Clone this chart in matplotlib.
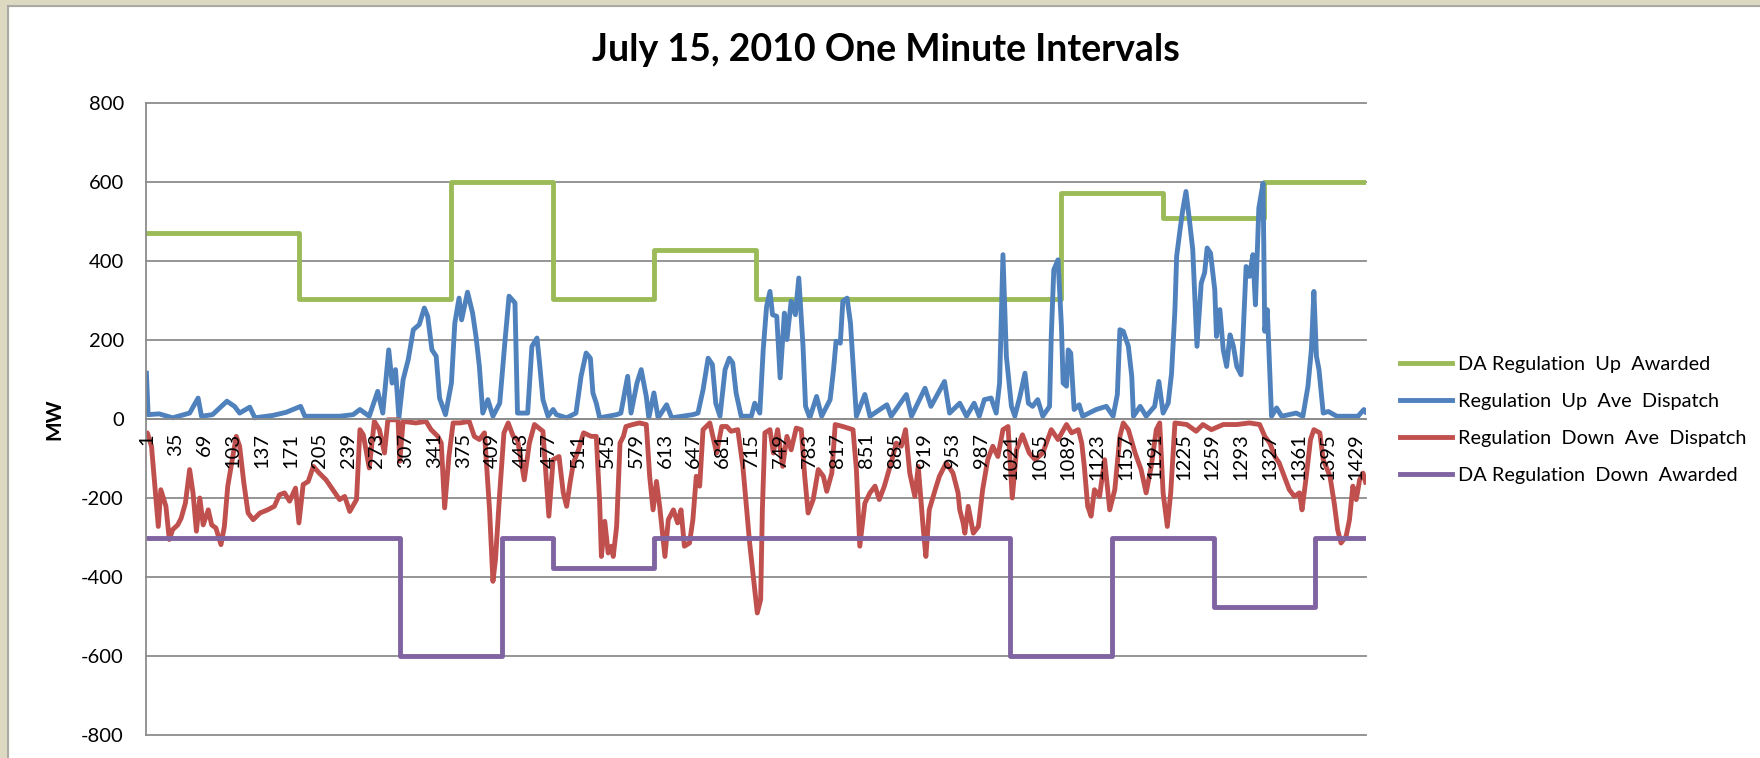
import numpy as np
import matplotlib.pyplot as plt
from matplotlib.patches import Rectangle

plt.rcParams['font.family'] = ['Lato', 'DejaVu Sans']
plt.rcParams['axes.unicode_minus'] = False

# hourly day-ahead awards (MW), 24 hours
up_award = [470, 470, 470, 303, 303, 303, 600, 600, 303, 303, 427, 427,
            303, 303, 303, 303, 303, 303, 572, 572, 510, 510, 600, 600]
down_award = [-300, -300, -300, -300, -300, -600, -600, -300, -377, -377, -300, -300,
              -300, -300, -300, -300, -300, -600, -600, -300, -300, -476, -476, -300]

# one-minute dispatch at breakpoints (minute, MW)
up_min = [1, 3, 16, 32, 52, 62, 66, 79, 96, 105, 111, 123, 129, 150, 166, 183, 188, 229, 245, 253,
          264, 274, 280, 287, 291, 295, 299, 304, 310, 316, 323, 329, 333, 338, 343, 347, 354, 361,
          365, 370, 373, 380, 386, 390, 394, 398, 404, 410, 418, 424, 429, 436, 439, 451, 456, 462,
          465, 469, 475, 481, 485, 497, 508, 514, 520, 525, 528, 532, 536, 556, 561, 569, 573, 580,
          585, 591, 594, 600, 605, 615, 621, 646, 652, 658, 664, 669, 673, 678, 684, 689, 693, 697,
          703, 715, 719, 725, 729, 733, 737, 740, 745, 749, 754, 757, 762, 767, 771, 776, 779, 784,
          792, 798, 808, 812, 815, 820, 823, 828, 832, 836, 839, 849, 855, 875, 880, 898, 904, 920,
          927, 943, 949, 961, 969, 978, 984, 990, 998, 1004, 1008, 1012, 1016, 1022, 1026, 1032,
          1038, 1042, 1047, 1053, 1059, 1067, 1069, 1072, 1077, 1081, 1083, 1087, 1089, 1092, 1096,
          1102, 1106, 1122, 1134, 1142, 1147, 1150, 1154, 1160, 1164, 1166, 1174, 1181, 1191, 1196,
          1201, 1207, 1211, 1215, 1217, 1221, 1224, 1228, 1232, 1236, 1241, 1246, 1250, 1253, 1257,
          1262, 1264, 1268, 1272, 1276, 1280, 1284, 1288, 1293, 1295, 1299, 1303, 1307, 1310, 1314,
          1319, 1321, 1324, 1329, 1335, 1341, 1358, 1366, 1372, 1376, 1379, 1382, 1385, 1390, 1396,
          1406, 1421, 1431, 1438, 1440]
up_val = [116, 11, 13, 3, 15, 53, 7, 11, 45, 32, 15, 30, 3, 9, 17, 32, 7, 7, 11, 24,
          7, 70, 15, 175, 91, 125, 3, 100, 150, 226, 239, 281, 260, 175, 159, 53, 11, 91,
          243, 306, 251, 321, 268, 209, 133, 15, 49, 7, 40, 192, 311, 294, 15, 15, 184, 205,
          142, 49, 7, 24, 11, 3, 15, 108, 167, 154, 66, 40, 3, 11, 15, 108, 15, 91,
          125, 57, 3, 66, 3, 36, 3, 11, 15, 74, 154, 138, 40, 7, 125, 154, 142, 66,
          7, 7, 40, 15, 175, 285, 323, 264, 260, 104, 268, 201, 298, 264, 357, 184, 32, 3,
          57, 7, 49, 125, 197, 192, 298, 306, 243, 108, 7, 62, 7, 36, 7, 62, 7, 78,
          32, 95, 15, 40, 7, 40, 7, 49, 53, 15, 91, 416, 159, 32, 7, 57,
          116, 40, 32, 49, 7, 32, 209, 378, 403, 235, 91, 83, 175, 167, 24,
          36, 7, 24, 32, 7, 62, 226, 222, 184, 108, 7, 32, 7, 32, 95,
          15, 40, 116, 277, 412, 479, 526, 576, 505, 429, 184, 344, 370, 433, 420,
          327, 209, 277, 175, 133, 213, 184, 133, 112, 192, 386, 361, 416, 289, 534,
          597, 222, 277, 7, 28, 7, 15, 7, 83, 175, 323, 159, 125, 15, 19,
          7, 7, 7, 24, 18]

down_min = [1, 2, 7, 11, 15, 18, 24, 28, 32, 38, 42, 47, 52, 56, 60, 64, 68, 74, 78, 83, 89, 93, 97,
            103, 107, 111, 116, 121, 127, 135, 144, 152, 158, 164, 170, 177, 181, 186, 192, 198, 205,
            213, 221, 229, 235, 241, 249, 253, 257, 264, 268, 270, 276, 282, 286, 298, 300, 304, 319,
            331, 337, 345, 349, 353, 358, 363, 371, 382, 388, 394, 400, 406, 410, 413, 418, 423, 428,
            434, 439, 447, 453, 459, 469, 476, 481, 488, 493, 497, 501, 505, 511, 517, 526, 532, 536,
            538, 542, 546, 550, 552, 556, 560, 564, 567, 575, 583, 591, 595, 599, 603, 607, 613, 617,
            623, 628, 632, 636, 642, 646, 650, 654, 658, 666, 674, 680, 686, 691, 699, 705, 713, 719,
            722, 726, 728, 731, 737, 741, 746, 752, 757, 762, 768, 774, 778, 782, 788, 794, 800, 804,
            810, 814, 823, 835, 839, 843, 849, 855, 861, 866, 872, 881, 886, 892, 897, 902, 908, 912,
            918, 921, 925, 932, 937, 945, 953, 959, 961, 965, 967, 971, 977, 983, 988, 994, 1000, 1006,
            1012, 1018, 1023, 1028, 1035, 1043, 1050, 1059, 1069, 1077, 1087, 1093, 1101, 1105, 1108,
            1112, 1116, 1120, 1126, 1132, 1138, 1144, 1150, 1154, 1160, 1168, 1175, 1181, 1187, 1193,
            1197, 1201, 1206, 1210, 1215, 1229, 1240, 1248, 1258, 1272, 1288, 1303, 1315, 1321, 1327,
            1333, 1338, 1344, 1350, 1356, 1362, 1365, 1370, 1375, 1379, 1386, 1390, 1398, 1403, 1407,
            1411, 1417, 1421, 1425, 1429, 1433, 1437, 1440]
down_val = [-40, -35, -69, -170, -272, -179, -221, -305, -280, -268, -251, -213, -128, -187, -284, -200,
            -268, -230, -268, -276, -318, -272, -170, -95, -44, -69, -162, -238, -255, -238, -230, -221,
            -192, -187, -208, -175, -263, -166, -158, -120, -137, -154, -179, -204, -196, -234, -204,
            -27, -40, -124, -44, -6, -27, -86, -2, -2, -107, -6, -10, -6, -27, -44, -61, -225, -95,
            -10, -10, -6, -44, -52, -35, -230, -411, -356, -187, -35, -10, -44, -52, -154, -61, -14,
            -31, -246, -103, -95, -187, -221, -162, -111, -78, -35, -44, -44, -213, -348, -259, -339,
            -322, -348, -272, -61, -44, -19, -14, -10, -14, -145, -230, -158, -225, -348, -255, -230,
            -263, -230, -322, -314, -255, -145, -170, -27, -10, -86, -19, -19, -31, -27, -120, -314,
            -432, -491, -457, -230, -35, -27, -86, -27, -120, -44, -78, -23, -27, -145, -238, -204,
            -128, -145, -183, -137, -14, -19, -27, -128, -322, -213, -187, -170, -204, -170, -103,
            -61, -69, -27, -137, -196, -120, -280, -348, -230, -179, -145, -111, -137, -187, -230,
            -263, -289, -221, -289, -272, -179, -103, -69, -95, -27, -19, -200, -78, -40, -86, -103,
            -86, -27, -52, -14, -35, -27, -61, -120, -221, -246, -179, -196, -103, -230, -179, -44,
            -10, -27, -86, -128, -187, -120, -27, -10, -187, -272, -187, -10, -14, -31, -14, -27,
            -14, -14, -10, -14, -44, -61, -95, -111, -145, -179, -196, -187, -230, -145, -52, -27,
            -35, -103, -145, -213, -280, -314, -297, -255, -170, -204, -154, -137, -160]

tick_labels = [str(m) for m in range(1, 1441, 34)]

W, H = 1760, 758
fig = plt.figure(figsize=(W/100, H/100), dpi=100)
ax = fig.add_axes([146/W, 1-735/H, 1220/W, 632/H])

# spine position first: moving it resets the ticks
for s in ['top', 'right']:
    ax.spines[s].set_visible(False)
ax.spines['bottom'].set_position(('data', 0))
for s in ['bottom', 'left']:
    ax.spines[s].set_color('#8c8c8c')
    ax.spines[s].set_linewidth(1.3)

hour_x = np.arange(25)*60 + 0.5
c_green, c_blue, c_red, c_purple = '#9bbb59', '#4f81bd', '#c0504d', '#8064a2'
lw = 3.5

ax.step(hour_x, up_award + up_award[-1:], where='post', color=c_green, lw=lw, label='DA Regulation  Up  Awarded')
ax.plot(up_min, up_val, color=c_blue, lw=lw, label='Regulation  Up  Ave  Dispatch')
ax.plot(down_min, down_val, color=c_red, lw=lw, label='Regulation  Down  Ave  Dispatch')
ax.step(hour_x, down_award + down_award[-1:], where='post', color=c_purple, lw=lw, label='DA Regulation  Down  Awarded')

ax.set_xlim(0.5, 1440.5)
ax.set_ylim(-800, 800)
ax.set_yticks(range(-800, 801, 200))
ax.set_xticks(range(1, 1441, 34))
ax.set_xticklabels(tick_labels, rotation=90, va='top', ha='center')
ax.tick_params(axis='both', length=0, labelsize=14.5)
ax.tick_params(axis='x', pad=10)
ax.tick_params(axis='y', pad=16)

# gridlines under the series, tick labels above them
for yv in range(-800, 801, 200):
    ax.axhline(yv, color='#8c8c8c', lw=1.3, zorder=0.5, clip_on=False)
ax.xaxis.set_zorder(5)

fig.text(886/W, 1-50/H, 'July 15, 2010 One Minute Intervals', ha='center', va='center',
         fontsize=27, fontweight='bold')
fig.text(54/W, 1-419/H, 'MW', ha='center', va='center', rotation=90, fontsize=15, fontweight='bold')

fig.legend(loc='center left', bbox_to_anchor=(1400/W, 1-420/H), frameon=False, fontsize=14.3,
           handlelength=2.6, handletextpad=0.3, labelspacing=1.0, borderpad=0, borderaxespad=0)

# beige window frame at top and left
fig.patches.append(Rectangle((0, 1-6/H), 1, 6/H, transform=fig.transFigure, color='#ddd8c0', zorder=0))
fig.patches.append(Rectangle((0, 0), 8/W, 1, transform=fig.transFigure, color='#ddd8c0', zorder=0))
fig.lines.append(plt.Line2D([8/W, 1], [1-6/H, 1-6/H], transform=fig.transFigure, color='#a0a0a0', lw=1.2))
fig.lines.append(plt.Line2D([8/W, 8/W], [0, 1-6/H], transform=fig.transFigure, color='#a0a0a0', lw=1.2))

fig.savefig('out.png', dpi=100)
